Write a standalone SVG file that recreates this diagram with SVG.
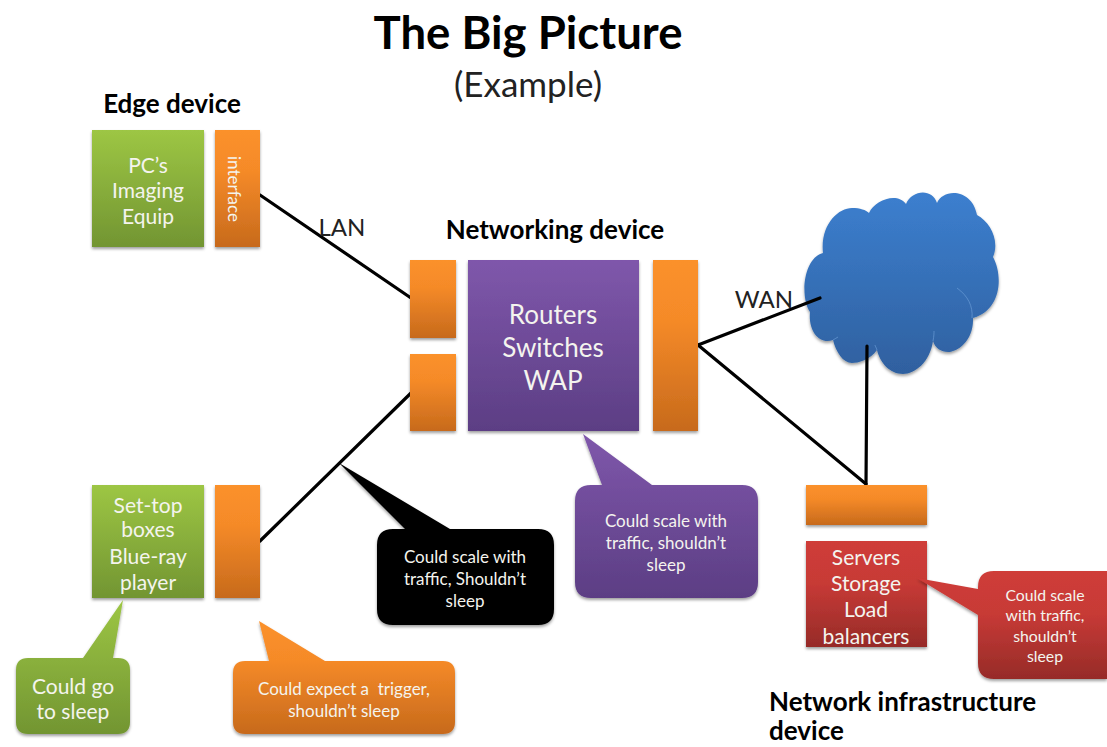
<svg xmlns="http://www.w3.org/2000/svg" width="1107" height="747" viewBox="0 0 1107 747">
<style>
text{font-family:Lato,"Liberation Sans",sans-serif;text-anchor:middle}
.w{fill:#f4f4ee}
.k{fill:#222}
.b{font-weight:700;fill:#000}
.s{filter:url(#sh)}
.og{fill:url(#or)}
.gr{fill:url(#gn)}
.pu{fill:url(#pp)}
.rd{fill:url(#re)}
.ln{stroke:#000;stroke-width:3.2;fill:none;stroke-linecap:round}
</style>
<defs>
<linearGradient id="or" x1="0" y1="0" x2="0" y2="1"><stop offset="0" stop-color="#fb912b"/><stop offset=".35" stop-color="#f58a28"/><stop offset="1" stop-color="#c76a1c"/></linearGradient>
<linearGradient id="gn" x1="0" y1="0" x2="0" y2="1"><stop offset="0" stop-color="#9dc644"/><stop offset="1" stop-color="#729532"/></linearGradient>
<linearGradient id="pp" x1="0" y1="0" x2="0" y2="1"><stop offset="0" stop-color="#7f57ab"/><stop offset="1" stop-color="#5c3e84"/></linearGradient>
<linearGradient id="re" x1="0" y1="0" x2="0" y2="1"><stop offset="0" stop-color="#cf3c38"/><stop offset=".4" stop-color="#c73a36"/><stop offset="1" stop-color="#962b28"/></linearGradient>
<linearGradient id="bl" x1="0" y1="0" x2="0" y2="1"><stop offset="0" stop-color="#3c7fcf"/><stop offset="1" stop-color="#2f609f"/></linearGradient>
<filter id="sh" x="-15%" y="-15%" width="130%" height="130%"><feDropShadow dx="0" dy="2" stdDeviation="1.6" flood-color="#000" flood-opacity=".38"/></filter>
</defs>

<text class="b" x="528" y="49" font-size="45.500">The Big Picture</text>
<text class="k" x="528" y="97" font-size="35">(Example)</text>
<text class="b" x="172" y="113" font-size="26">Edge device</text>
<text class="b" x="555" y="239" font-size="26">Networking device</text>

<g id="cloud">
<path class="s" fill="url(#bl)" d="M823 253C820 225 838 208 852 208C860 208 866 210 869 213C875 200 897 192 906 204C912 190 932 188 937 203C943 188 972 188 977 215C990 222 1000 240 993 257C1003 275 1002 310 973 318C974 340 958 352 948 352C941 352 935 348 933 341C930 362 915 374 903 374C890 374 880 363 877 350C870 360 858 363 852 363C843 363 836 352 833 340C820 345 808 332 810 312C800 298 803 258 823 253Z"/>
<path d="M957 288C968 296 973 306 972 318M933 341C934 336 934 333 934 331M877 350C876 347 875 346 875 345M833 340C835 339 836 338 838 337" fill="none" stroke="#6a9bd6" stroke-width="1" opacity=".7"/>
</g>

<g id="connectors">
<path class="ln" d="M260 195L411 298"/>
<path class="ln" d="M260 541L411 393"/>
<path class="ln" d="M698 345L820 298"/>
<path class="ln" d="M698 345L866 484"/>
<path class="ln" d="M867 346L866 484"/>
</g>
<text class="k" x="342" y="236" font-size="24">LAN</text>
<text class="k" x="764" y="308" font-size="24">WAN</text>

<g id="edge1">
<rect class="s gr" x="92" y="130" width="112" height="117"/>
<text class="w" font-size="21"><tspan x="148" y="173">PC’s</tspan><tspan x="148" y="198">Imaging</tspan><tspan x="148" y="224">Equip</tspan></text>
</g>
<g id="edge1-if">
<rect class="s og" x="215" y="130" width="45" height="117"/>
<text class="w" font-size="17" transform="translate(228 189) rotate(90)">interface</text>
</g>

<g id="net-if1"><rect class="s og" x="410" y="260" width="46" height="78"/></g>
<g id="net-if2"><rect class="s og" x="410" y="354" width="46" height="77"/></g>
<g id="net">
<rect class="s pu" x="468" y="260" width="171" height="171"/>
<text class="w" font-size="26"><tspan x="553" y="324">Routers</tspan><tspan x="553" y="357">Switches</tspan><tspan x="553" y="390">WAP</tspan></text>
</g>
<g id="net-if3"><rect class="s og" x="653" y="260" width="45" height="171"/></g>

<g id="edge2">
<rect class="s gr" x="92" y="485" width="112" height="113"/>
<text class="w" font-size="21"><tspan x="148" y="513">Set-top</tspan><tspan x="148" y="537">boxes</tspan><tspan x="148" y="564">Blue-ray</tspan><tspan x="148" y="590">player</tspan></text>
</g>
<g id="edge2-if"><rect class="s og" x="215" y="485" width="45" height="113"/></g>

<g id="infra-if"><rect class="s og" x="806" y="485" width="121" height="40"/></g>
<g id="infra">
<rect class="s rd" x="806" y="541" width="121" height="106"/>
<text class="w" font-size="21"><tspan x="866" y="565">Servers</tspan><tspan x="866" y="591">Storage</tspan><tspan x="866" y="617">Load</tspan><tspan x="866" y="644">balancers</tspan></text>
</g>
<text class="b" font-size="26" style="text-anchor:start"><tspan x="769" y="711">Network infrastructure</tspan><tspan x="769" y="740">device</tspan></text>

<g id="note-black">
<path class="s" fill="#000" d="M339 463L450 529H538Q554 529 554 545V609Q554 625 538 625H393Q377 625 377 609V545Q377 529 393 529H405Z"/>
<text class="w" font-size="17"><tspan x="465" y="563">Could scale with</tspan><tspan x="465" y="585">traffic, Shouldn’t</tspan><tspan x="465" y="607">sleep</tspan></text>
</g>
<g id="note-purple">
<path class="s pu" d="M583 434L652 485H742Q758 485 758 501V582Q758 598 742 598H591Q575 598 575 582V501Q575 485 591 485H602Z"/>
<text class="w" font-size="17"><tspan x="666" y="527">Could scale with</tspan><tspan x="666" y="549">traffic, shouldn’t</tspan><tspan x="666" y="571">sleep</tspan></text>
</g>
<g id="note-red">
<path class="s rd" d="M917 578L978 589V587Q978 571 994 571H1107V679H994Q978 679 978 663V615Z"/>
<text class="w" font-size="15.800"><tspan x="1045" y="601">Could scale</tspan><tspan x="1045" y="621">with traffic,</tspan><tspan x="1045" y="642">shouldn’t</tspan><tspan x="1045" y="662">sleep</tspan></text>
</g>
<g id="note-green">
<path class="s gr" d="M123 600L113 658H118Q130 658 130 670V722Q130 734 118 734H28Q16 734 16 722V670Q16 658 28 658H83Z"/>
<text class="w" font-size="21"><tspan x="73" y="694">Could go</tspan><tspan x="73" y="719">to sleep</tspan></text>
</g>
<g id="note-orange">
<path class="s og" d="M259 621L325 661H443Q455 661 455 673V722Q455 734 443 734H245Q233 734 233 722V673Q233 661 245 661H269Z"/>
<text class="w" font-size="17"><tspan x="344" y="695">Could expect a&#160; trigger,</tspan><tspan x="344" y="717">shouldn’t sleep</tspan></text>
</g>
</svg>
